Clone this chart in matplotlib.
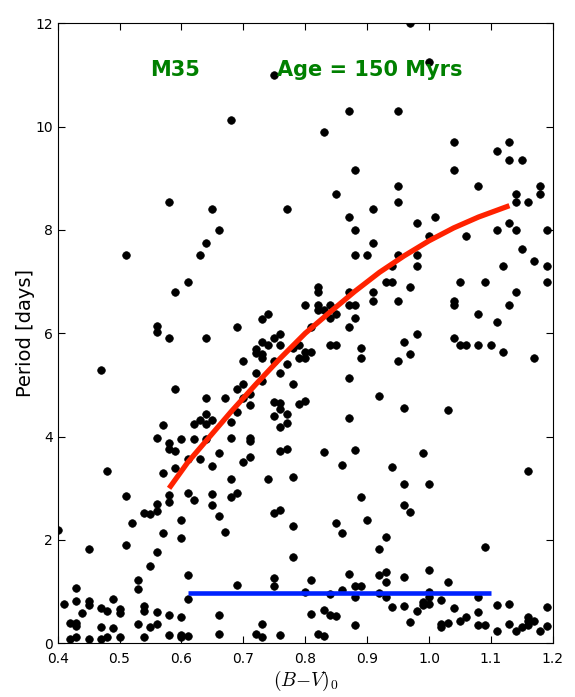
import matplotlib
matplotlib.use("Agg")
import matplotlib.pyplot as plt

plt.rcParams['mathtext.fontset'] = 'cm'

# rotation periods of M35 members
bv = [0.75, 0.97, 1.00, 0.68, 0.87, 0.95, 0.83, 1.04, 1.13, 1.11, 1.13, 1.15, 0.88, 1.04,
      0.95, 1.08, 1.18, 0.85, 1.14, 1.18, 0.95, 1.14, 1.16, 0.58, 0.65, 0.77, 0.91, 0.87,
      1.01, 0.98, 1.13, 0.66, 0.88, 1.11, 1.14, 1.19, 1.00, 1.06, 0.91, 0.64, 1.15, 0.51,
      0.63, 0.88, 0.90, 0.95, 0.98, 1.17, 0.94, 0.98, 1.12, 1.19, 0.61, 0.93, 0.94, 1.05,
      1.09, 1.19, 0.97, 0.82, 0.59, 0.82, 0.87, 0.91, 1.14, 0.91, 0.95, 1.04, 0.80, 0.82,
      0.84, 0.87, 0.88, 1.04, 1.13, 0.82, 0.83, 0.74, 0.85, 1.08, 0.73, 0.84, 0.88, 1.11,
      0.56, 0.69, 0.81, 0.87, 0.56, 0.76, 0.98, 0.58, 0.64, 0.75, 1.04, 0.73, 0.96, 0.74,
      0.76, 0.79, 0.84, 0.85, 1.05, 1.06, 1.08, 1.10, 0.72, 0.78, 0.89, 0.72, 0.80, 0.81,
      1.12, 0.73, 0.97, 0.73, 0.79, 0.80, 0.89, 1.17, 0.70, 0.75, 0.95, 0.77, 0.47, 0.72,
      0.76, 0.87, 0.73, 0.70, 0.78, 0.59, 0.69, 0.71, 0.92, 0.64, 0.67, 0.70, 0.75, 0.80,
      0.76, 0.79, 0.71, 0.96, 0.76, 1.03, 0.69, 0.64, 0.77, 0.75, 0.87, 0.63, 0.65, 0.68,
      0.62, 0.64, 0.77, 0.57, 0.76, 0.56, 0.68, 0.71, 0.60, 0.62, 0.64, 0.71, 0.58, 0.58,
      0.77, 0.88, 0.59, 0.76, 0.83, 0.66, 0.99, 0.71, 0.61, 0.63, 0.70, 0.86, 0.65, 0.94,
      0.59, 0.48, 1.16, 0.57, 0.78, 0.68, 0.74, 0.96, 1.00, 0.58, 0.51, 0.61, 0.69, 0.65,
      0.68, 0.89, 0.62, 0.58, 0.56, 0.65, 0.96, 0.76, 0.56, 0.97, 0.75, 0.54, 0.55, 0.66,
      0.90, 0.60, 0.52, 0.85, 0.78, 0.40, 0.67, 0.86, 0.57, 0.93, 0.60, 0.51, 1.09, 0.92,
      0.45, 0.56, 0.78, 0.55, 1.00, 0.93, 0.87, 0.61, 0.92, 0.96, 0.75, 0.53, 0.81, 0.93,
      1.03, 0.69, 0.75, 0.88, 0.89, 0.43, 0.53, 0.86, 0.80, 1.00, 0.92, 0.84, 0.88, 0.93,
      1.00, 1.08, 0.49, 0.61, 1.02, 0.43, 0.45, 0.99, 0.41, 0.45, 0.99, 1.00, 1.11, 1.13,
      0.96, 0.54, 0.94, 0.47, 1.19, 1.04, 0.50, 0.48, 0.54, 0.83, 0.98, 0.56, 1.08, 0.44,
      0.50, 0.81, 0.58, 0.66, 0.84, 0.85, 1.06, 0.60, 1.16, 1.05, 1.16, 1.17, 0.97, 1.03,
      0.42, 0.43, 0.73, 1.02, 1.13, 0.53, 0.56, 0.88, 1.08, 1.09, 1.16, 0.43, 1.19, 0.55,
      1.02, 0.47, 1.15, 0.49, 1.11, 1.14, 1.18, 0.72, 0.82, 0.66, 0.58, 0.60, 0.76, 0.61,
      0.83, 0.50, 0.54, 0.60, 0.43, 0.48, 0.73, 0.45, 0.47, 0.42]
period = [11.00, 12.00, 11.25, 10.13, 10.30, 10.30, 9.90, 9.70, 9.70, 9.53, 9.35, 9.35, 9.17, 9.17,
          8.86, 8.86, 8.86, 8.70, 8.70, 8.70, 8.55, 8.55, 8.55, 8.55, 8.40, 8.40, 8.40, 8.26,
          8.26, 8.13, 8.13, 8.00, 8.00, 8.00, 8.00, 8.00, 7.88, 7.88, 7.75, 7.75, 7.64, 7.52,
          7.52, 7.52, 7.52, 7.52, 7.52, 7.40, 7.30, 7.30, 7.30, 7.30, 7.00, 7.00, 7.00, 7.00,
          7.00, 7.00, 6.90, 6.90, 6.80, 6.80, 6.80, 6.80, 6.80, 6.62, 6.62, 6.62, 6.54, 6.54,
          6.54, 6.54, 6.54, 6.54, 6.54, 6.46, 6.46, 6.37, 6.37, 6.37, 6.28, 6.29, 6.29, 6.21,
          6.14, 6.13, 6.13, 6.13, 6.03, 5.99, 5.99, 5.91, 5.91, 5.91, 5.91, 5.84, 5.84, 5.78,
          5.78, 5.78, 5.78, 5.78, 5.78, 5.78, 5.78, 5.78, 5.70, 5.71, 5.71, 5.62, 5.64, 5.64,
          5.64, 5.59, 5.59, 5.53, 5.53, 5.53, 5.53, 5.53, 5.46, 5.46, 5.46, 5.40, 5.29, 5.24,
          5.24, 5.13, 5.08, 5.02, 5.02, 4.93, 4.93, 4.83, 4.79, 4.74, 4.74, 4.74, 4.68, 4.69,
          4.66, 4.64, 4.61, 4.56, 4.53, 4.52, 4.48, 4.44, 4.44, 4.40, 4.36, 4.33, 4.33, 4.29,
          4.25, 4.25, 4.26, 4.22, 4.18, 3.98, 3.98, 3.98, 3.95, 3.95, 3.95, 3.92, 3.87, 3.77,
          3.77, 3.74, 3.72, 3.72, 3.71, 3.69, 3.69, 3.60, 3.56, 3.56, 3.50, 3.46, 3.43, 3.41,
          3.39, 3.34, 3.34, 3.30, 3.21, 3.19, 3.19, 3.08, 3.08, 2.87, 2.85, 2.91, 2.91, 2.89,
          2.83, 2.83, 2.78, 2.73, 2.70, 2.68, 2.68, 2.59, 2.56, 2.54, 2.53, 2.52, 2.50, 2.47,
          2.39, 2.38, 2.33, 2.33, 2.28, 2.20, 2.15, 2.14, 2.13, 2.05, 2.04, 1.91, 1.86, 1.83,
          1.82, 1.77, 1.68, 1.50, 1.41, 1.38, 1.35, 1.32, 1.33, 1.29, 1.27, 1.23, 1.22, 1.18,
          1.18, 1.13, 1.10, 1.10, 1.10, 1.07, 1.06, 1.04, 1.00, 1.00, 0.97, 0.95, 0.90, 0.90,
          0.90, 0.90, 0.86, 0.85, 0.84, 0.82, 0.82, 0.80, 0.77, 0.74, 0.74, 0.76, 0.75, 0.76,
          0.73, 0.72, 0.71, 0.69, 0.70, 0.68, 0.66, 0.63, 0.63, 0.64, 0.62, 0.61, 0.61, 0.59,
          0.59, 0.57, 0.55, 0.55, 0.54, 0.52, 0.51, 0.50, 0.50, 0.44, 0.44, 0.44, 0.42, 0.40,
          0.39, 0.39, 0.38, 0.38, 0.38, 0.37, 0.37, 0.35, 0.35, 0.35, 0.35, 0.33, 0.33, 0.32,
          0.32, 0.31, 0.31, 0.29, 0.24, 0.23, 0.23, 0.19, 0.19, 0.18, 0.17, 0.17, 0.16, 0.14,
          0.14, 0.13, 0.13, 0.13, 0.12, 0.12, 0.12, 0.09, 0.09, 0.08]

# red sequence
seq_bv = [0.58, 0.61, 0.64, 0.68, 0.72, 0.76, 0.80, 0.84, 0.88, 0.92, 0.96, 1.00, 1.04, 1.08, 1.13]
seq_period = [3.00, 3.50, 3.92, 4.48, 5.01, 5.52, 6.00, 6.41, 6.81, 7.18, 7.50, 7.79, 8.04, 8.25, 8.47]

# blue fast-rotator line
fast_bv = [0.61, 1.10]
fast_period = [0.97, 0.97]

fig = plt.figure(figsize=(5.75, 6.97), dpi=100)
ax = fig.add_axes([0.1003, 0.077, 0.861, 0.8896])

ax.scatter(bv, period, s=30, c='black', edgecolors='black', linewidths=0.5, zorder=2)
ax.plot(seq_bv, seq_period, color='#ff2200', lw=3.8, solid_capstyle='butt', zorder=3)
ax.plot(fast_bv, fast_period, color='#0022ff', lw=3.3, solid_capstyle='butt', zorder=3)

ax.text(0.59, 11.1, 'M35', color='green', fontsize=15, fontweight='bold', ha='center', va='center')
ax.text(0.905, 11.1, 'Age = 150 Myrs', color='green', fontsize=15, fontweight='bold',
        ha='center', va='center')

ax.set_xlim(0.4, 1.2)
ax.set_ylim(0, 12)
ax.set_xticks([0.4, 0.5, 0.6, 0.7, 0.8, 0.9, 1.0, 1.1, 1.2])
ax.set_xticklabels(['0.4', '0.5', '0.6', '0.7', '0.8', '0.9', '1.0', '1.1', '1.2'])
ax.set_yticks([0, 2, 4, 6, 8, 10, 12])
ax.tick_params(direction='in', top=True, right=True, length=5, labelsize=10)
ax.tick_params(axis='x', pad=6)
ax.set_xlabel(r'$(B{-}V)_0$', fontsize=14, labelpad=2)
ax.set_ylabel('Period [days]', fontsize=14, labelpad=0)

fig.savefig('out.png', dpi=100)
